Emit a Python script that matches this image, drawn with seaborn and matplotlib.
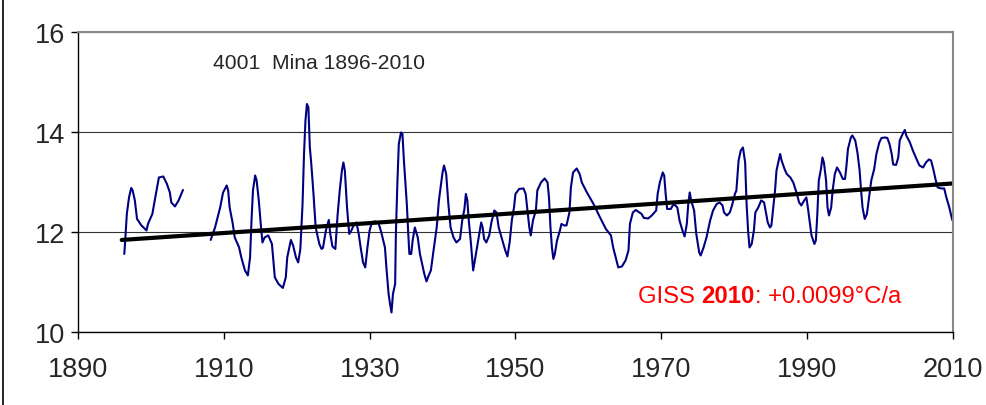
"""
Mina station temperature series (GISS) with linear trend
"""
import matplotlib
matplotlib.use('Agg')
import matplotlib.pyplot as plt
from matplotlib.lines import Line2D
import pandas as pd
import seaborn as sns

sns.set_style('white')
plt.rcParams['font.family'] = ['Liberation Sans', 'DejaVu Sans']

# first stretch of the record (before the gap)
years_a = [1896.35, 1896.45, 1896.7, 1897.0, 1897.3, 1897.5, 1897.8, 1898.1, 1898.7, 1899.4,
           1899.6, 1900.2, 1900.6, 1901.1, 1901.7, 1902.2, 1902.6, 1902.8, 1903.3, 1903.8, 1904.4]
temps_a = [11.56, 11.76, 12.36, 12.69, 12.88, 12.83, 12.63, 12.26, 12.13, 12.03,
           12.16, 12.36, 12.69, 13.09, 13.11, 12.96, 12.79, 12.59, 12.51, 12.63, 12.84]

# second stretch (1908 - 2010)
years_b = [1908.2, 1908.8, 1909.5, 1909.9, 1910.4, 1910.6, 1910.8, 1911.2, 1911.5, 1912.1,
           1912.4, 1912.9, 1913.3, 1913.6, 1913.8, 1914.0, 1914.3, 1914.5, 1914.8, 1915.1,
           1915.3, 1915.6, 1916.1, 1916.6, 1917.0, 1917.5, 1918.1, 1918.5, 1918.7, 1919.2,
           1919.5, 1919.9, 1920.2, 1920.5, 1920.8, 1921.0, 1921.2, 1921.4, 1921.6, 1921.8,
           1922.0, 1922.3, 1922.6, 1923.1, 1923.4, 1923.6, 1924.0, 1924.4, 1924.6, 1924.9,
           1925.3, 1925.6, 1925.9, 1926.2, 1926.4, 1926.6, 1926.8, 1926.9, 1927.2, 1927.5,
           1927.8, 1928.2, 1928.5, 1928.8, 1929.1, 1929.4, 1929.7, 1930.0, 1930.3, 1930.7,
           1931.2, 1931.6, 1932.1, 1932.3, 1932.6, 1932.8, 1933.0, 1933.2, 1933.5, 1933.6,
           1933.8, 1934.0, 1934.3, 1934.5, 1934.7, 1935.1, 1935.3, 1935.45, 1935.7, 1935.9,
           1936.2, 1936.6, 1936.9, 1937.2, 1937.5, 1937.8, 1938.1, 1938.4, 1938.7, 1939.2,
           1939.5, 1939.8, 1940.0, 1940.2, 1940.5, 1940.8, 1941.1, 1941.5, 1941.9, 1942.4,
           1942.7, 1943.0, 1943.2, 1943.4, 1943.6, 1943.9, 1944.2, 1944.5, 1944.9, 1945.3,
           1945.5, 1945.7, 1946.0, 1946.4, 1946.7, 1947.1, 1947.4, 1947.7, 1948.2, 1948.6,
           1948.9, 1949.2, 1949.5, 1949.8, 1950.0, 1950.5, 1951.1, 1951.4, 1951.7, 1951.9,
           1952.1, 1952.4, 1952.8, 1953.0, 1953.5, 1954.0, 1954.4, 1954.6, 1954.8, 1955.0,
           1955.2, 1955.4, 1955.7, 1956.1, 1956.3, 1956.7, 1957.0, 1957.4, 1957.6, 1957.9,
           1958.4, 1958.8, 1959.1, 1959.8, 1960.7, 1961.6, 1962.4, 1963.1, 1963.4, 1963.8,
           1964.1, 1964.6, 1965.1, 1965.5, 1965.7, 1966.1, 1966.5, 1967.0, 1967.3, 1967.6,
           1968.2, 1968.7, 1969.3, 1969.5, 1969.8, 1970.2, 1970.4, 1970.6, 1970.8, 1971.3,
           1971.7, 1972.2, 1972.5, 1972.9, 1973.2, 1973.5, 1973.7, 1973.9, 1974.1, 1974.5,
           1974.8, 1975.2, 1975.4, 1975.8, 1976.2, 1976.7, 1977.1, 1977.6, 1978.0, 1978.4,
           1978.6, 1979.0, 1979.4, 1979.7, 1980.1, 1980.3, 1980.6, 1980.9, 1981.2, 1981.5,
           1981.7, 1981.9, 1982.1, 1982.4, 1982.7, 1982.9, 1983.3, 1983.7, 1984.1, 1984.3,
           1984.6, 1984.9, 1985.1, 1985.4, 1985.6, 1985.8, 1986.1, 1986.3, 1986.5, 1986.9,
           1987.2, 1987.7, 1988.1, 1988.6, 1988.9, 1989.2, 1989.6, 1989.9, 1990.1, 1990.4,
           1990.6, 1991.0, 1991.2, 1991.4, 1991.6, 1991.9, 1992.1, 1992.3, 1992.6, 1992.8,
           1993.0, 1993.3, 1993.5, 1993.8, 1994.1, 1994.5, 1994.9, 1995.2, 1995.4, 1995.6,
           1996.0, 1996.2, 1996.6, 1996.9, 1997.2, 1997.4, 1997.6, 1997.9, 1998.2, 1998.5,
           1998.8, 1999.2, 1999.5, 1999.9, 2000.2, 2000.7, 2001.0, 2001.3, 2001.6, 2001.8,
           2002.2, 2002.5, 2002.7, 2003.1, 2003.4, 2003.6, 2004.1, 2004.5, 2005.0, 2005.4,
           2005.9, 2006.3, 2006.7, 2007.0, 2007.3, 2007.6, 2007.9, 2008.4, 2008.8, 2009.1,
           2009.5, 2009.9]
temps_b = [11.84, 12.09, 12.49, 12.79, 12.93, 12.83, 12.49, 12.19, 11.89, 11.69,
           11.49, 11.23, 11.13, 11.49, 12.23, 12.83, 13.13, 13.03, 12.63, 12.10,
           11.79, 11.89, 11.93, 11.76, 11.09, 10.96, 10.88, 11.09, 11.49, 11.84,
           11.73, 11.49, 11.39, 11.66, 12.56, 13.56, 14.23, 14.56, 14.49, 13.69,
           13.36, 12.76, 12.09, 11.76, 11.66, 11.68, 12.03, 12.24, 11.96, 11.71,
           11.66, 12.33, 12.83, 13.23, 13.39, 13.23, 12.76, 12.49, 11.96, 12.03,
           12.13, 12.19, 11.96, 11.66, 11.39, 11.29, 11.69, 12.03, 12.19, 12.21,
           12.19, 11.99, 11.69, 11.29, 10.76, 10.56, 10.39, 10.76, 10.96, 11.96,
           12.96, 13.76, 13.99, 13.96, 13.43, 12.56, 11.96, 11.56, 11.56, 11.83,
           12.09, 11.89, 11.56, 11.36, 11.16, 11.01, 11.13, 11.23, 11.56, 12.09,
           12.63, 12.96, 13.19, 13.33, 13.16, 12.56, 12.09, 11.89, 11.79, 11.86,
           12.23, 12.46, 12.76, 12.63, 12.23, 11.76, 11.23, 11.49, 11.83, 12.19,
           12.09, 11.86, 11.79, 11.93, 12.19, 12.43, 12.39, 12.09, 11.83, 11.63,
           11.51, 11.79, 12.23, 12.49, 12.76, 12.86, 12.87, 12.76, 12.36, 12.09,
           11.93, 12.23, 12.43, 12.83, 12.99, 13.07, 12.99, 12.69, 12.09, 11.69,
           11.46, 11.56, 11.83, 12.03, 12.16, 12.13, 12.13, 12.39, 12.89, 13.19,
           13.27, 13.16, 12.99, 12.79, 12.56, 12.29, 12.06, 11.93, 11.69, 11.46,
           11.29, 11.31, 11.43, 11.63, 12.16, 12.39, 12.44, 12.39, 12.36, 12.28,
           12.27, 12.33, 12.43, 12.76, 12.99, 13.19, 13.13, 12.76, 12.46, 12.46,
           12.56, 12.49, 12.23, 12.03, 11.91, 12.16, 12.56, 12.79, 12.63, 12.43,
           11.96, 11.59, 11.53, 11.69, 11.89, 12.23, 12.43, 12.56, 12.59, 12.53,
           12.39, 12.33, 12.39, 12.53, 12.76, 12.83, 13.43, 13.63, 13.69, 13.39,
           12.56, 12.03, 11.69, 11.76, 12.03, 12.39, 12.49, 12.63, 12.59, 12.43,
           12.19, 12.09, 12.13, 12.56, 12.83, 13.23, 13.43, 13.56, 13.43, 13.26,
           13.16, 13.09, 12.99, 12.76, 12.59, 12.53, 12.63, 12.69, 12.49, 12.16,
           11.93, 11.76, 11.83, 12.36, 13.03, 13.26, 13.49, 13.39, 13.03, 12.49,
           12.33, 12.49, 12.83, 13.16, 13.29, 13.19, 13.06, 13.06, 13.33, 13.66,
           13.89, 13.93, 13.83, 13.59, 13.23, 12.83, 12.49, 12.26, 12.36, 12.69,
           13.03, 13.26, 13.56, 13.79, 13.88, 13.89, 13.88, 13.76, 13.56, 13.35,
           13.34, 13.49, 13.83, 13.96, 14.04, 13.93, 13.79, 13.63, 13.46, 13.33,
           13.29, 13.39, 13.45, 13.43, 13.26, 13.06, 12.89, 12.87, 12.87, 12.69,
           12.49, 12.24]

# linear trend end points (+0.0099 C/a)
trend_years = [1896, 2010]
trend_temps = [11.84, 12.97]

x_ticks = [1890, 1910, 1930, 1950, 1970, 1990, 2010]
y_ticks = [10, 12, 14, 16]

df = pd.concat([
    pd.DataFrame({'year': years_a, 'temp': temps_a, 'part': 1}),
    pd.DataFrame({'year': years_b, 'temp': temps_b, 'part': 2}),
])

fig = plt.figure(figsize=(9.87, 4.06), dpi=100)
ax = fig.add_axes([0.079, 0.18, 0.8865, 0.7387])

sns.lineplot(data=df, x='year', y='temp', units='part', estimator=None,
             color='#000080', linewidth=1.5, ax=ax)
sns.lineplot(x=trend_years, y=trend_temps, color='black', linewidth=3, ax=ax)

ax.set_xlim(1890, 2010)
ax.set_ylim(10, 16)
ax.set_xticks(x_ticks)
ax.set_yticks(y_ticks)
ax.set_xlabel('')
ax.set_ylabel('')
ax.grid(axis='y', color='#333333', linewidth=0.8)
ax.grid(axis='x', visible=False)

for side in ['top', 'right']:
    ax.spines[side].set_color('#888888')
    ax.spines[side].set_linewidth(1.5)
for side in ['left', 'bottom']:
    ax.spines[side].set_color('black')
    ax.spines[side].set_linewidth(1.0)

ax.tick_params(axis='both', direction='out', length=5, width=1, color='black',
               labelsize=19.5, left=True, bottom=True)
ax.tick_params(axis='x', pad=12)
ax.tick_params(axis='y', pad=4)

ax.text(1908.5, 15.38, '4001  Mina 1896-2010', fontsize=15.2, ha='left', va='center')

t1 = ax.text(1966.8, 10.72, 'GISS ', fontsize=17.2, color='red', ha='left', va='center')
t2 = ax.annotate('2010', xy=(1, 0), xycoords=t1, fontsize=17.2, color='red',
                 fontweight='bold', ha='left', va='bottom')
ax.annotate(': +0.0099°C/a', xy=(1, 0), xycoords=t2, fontsize=17.2, color='red',
            ha='left', va='bottom')

# frame edge at the left of the image
fig.add_artist(Line2D([0.003, 0.003], [0, 1], color='black', linewidth=1.2))

plt.savefig('out.png', dpi=100)
plt.close()
